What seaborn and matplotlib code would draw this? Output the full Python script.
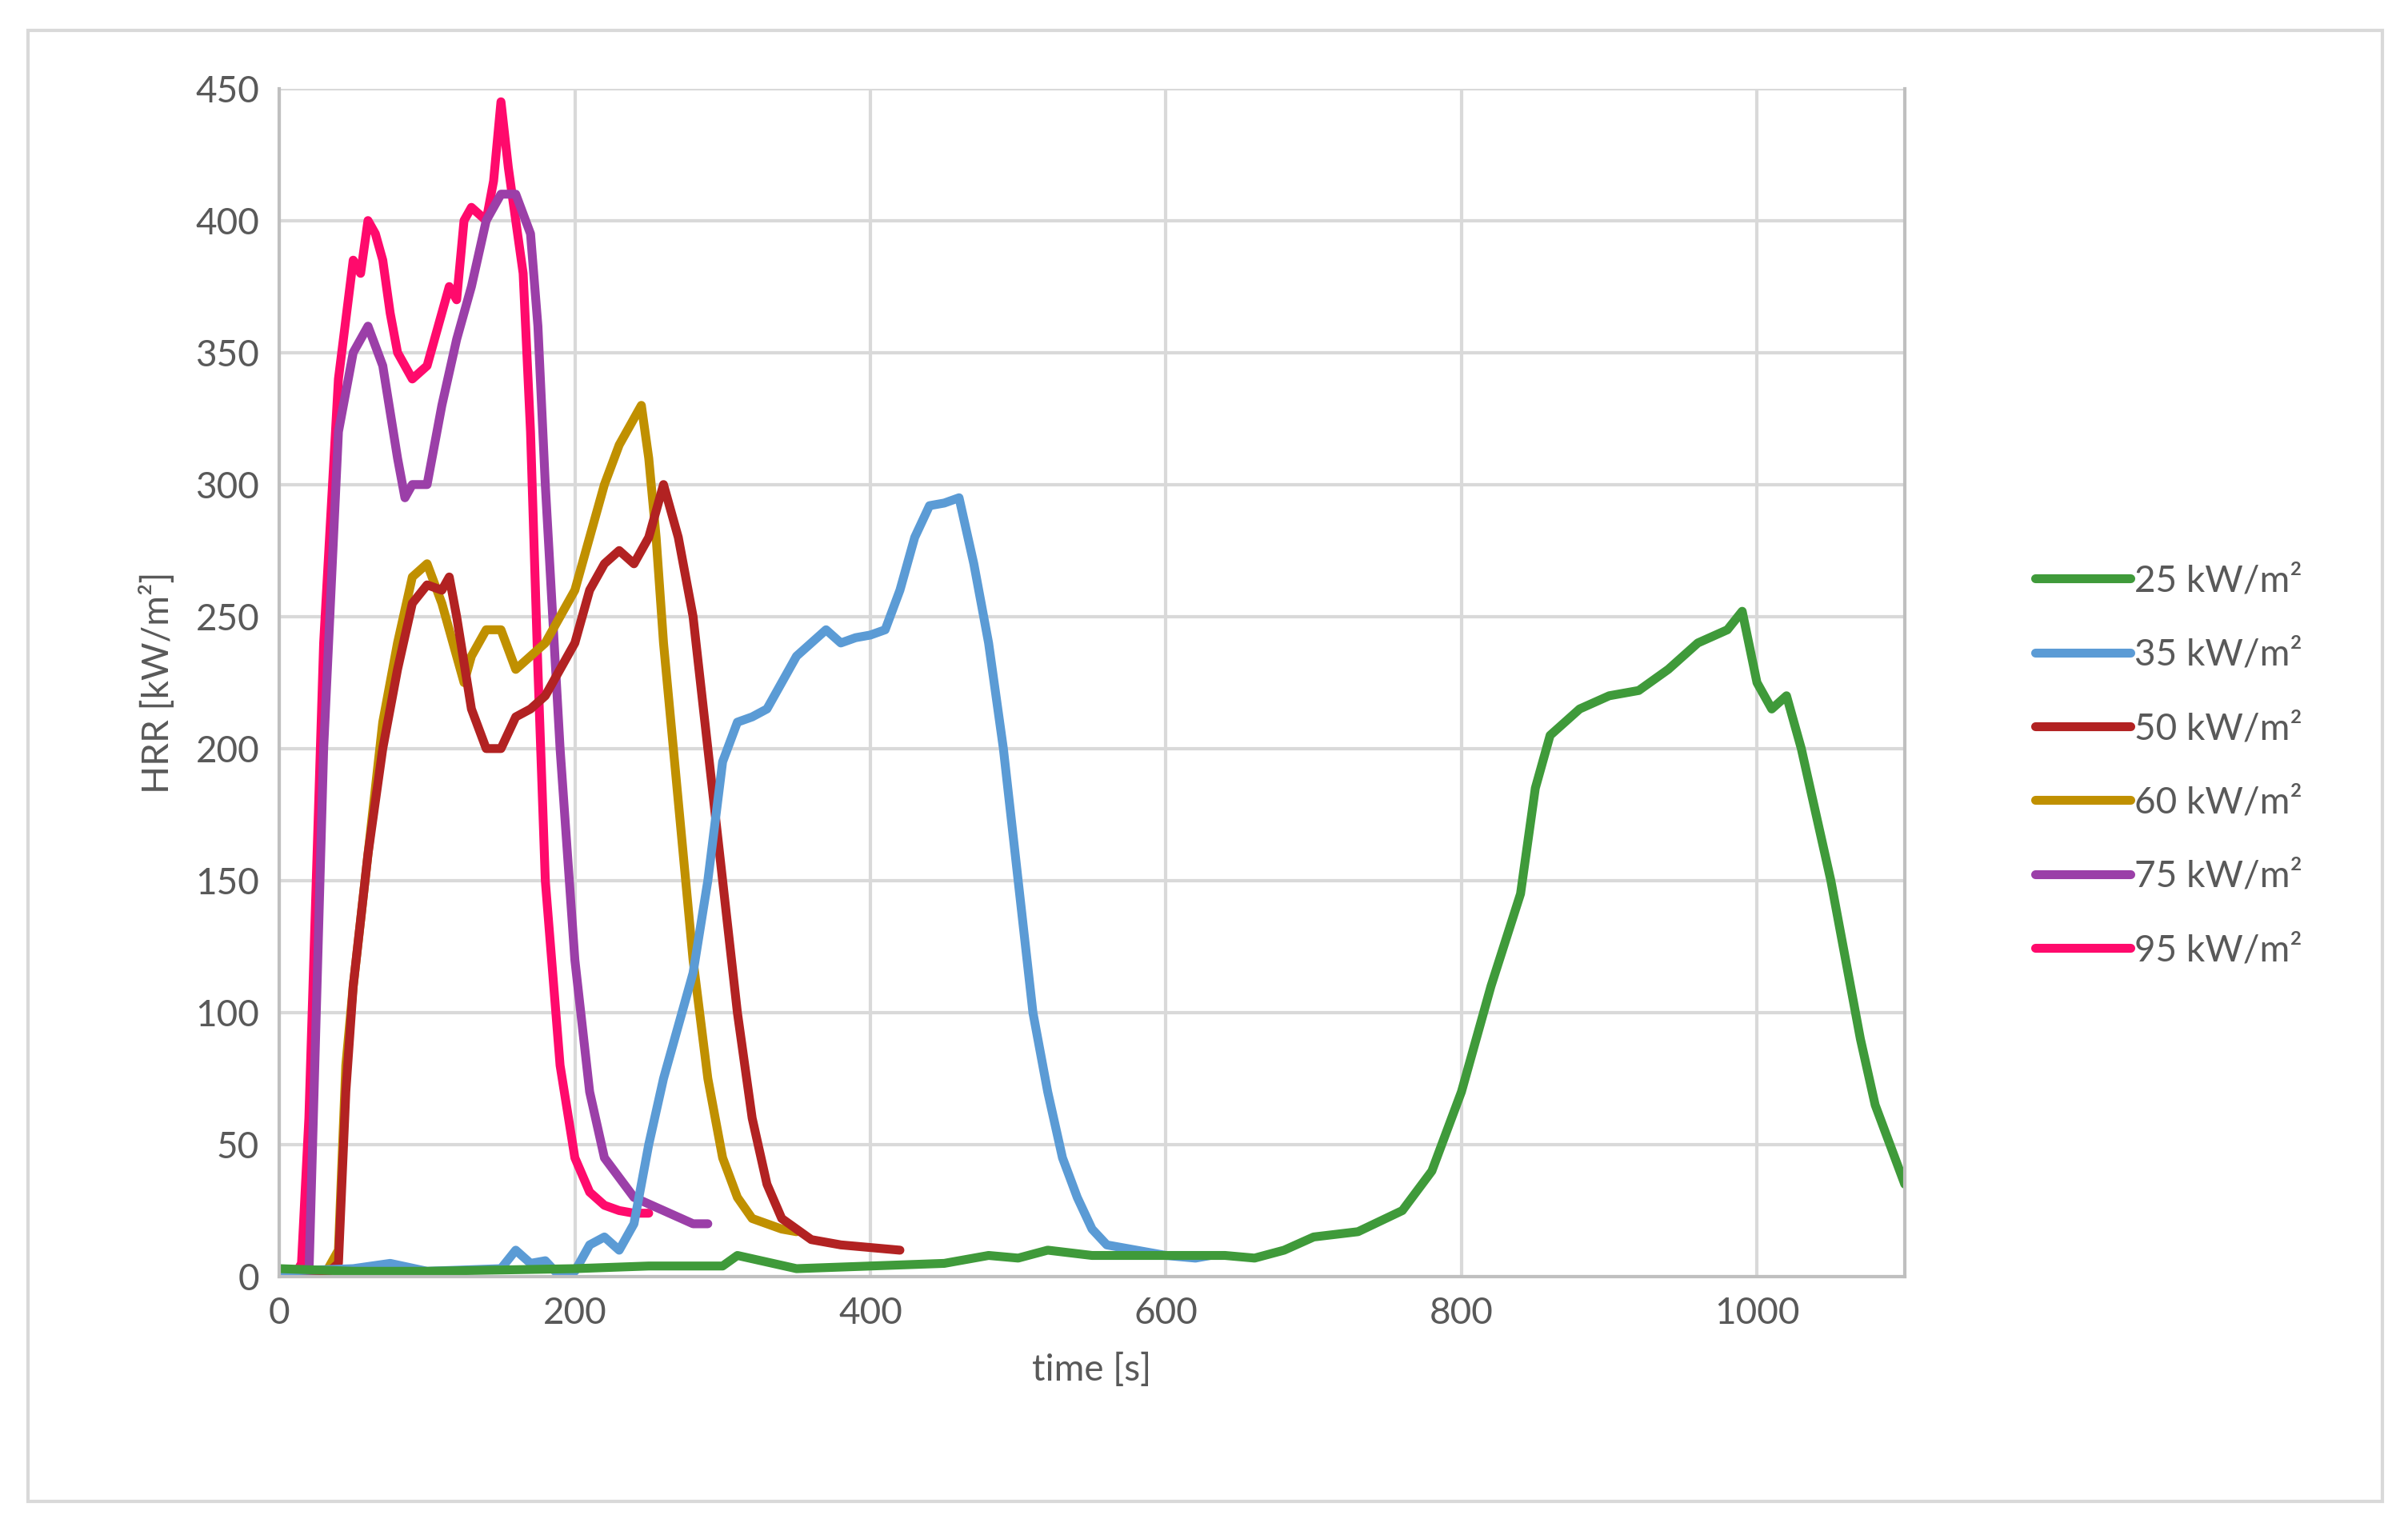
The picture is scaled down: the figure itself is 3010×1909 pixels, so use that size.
import matplotlib
matplotlib.use('Agg')
import matplotlib.pyplot as plt
import seaborn as sns
import pandas as pd
from matplotlib.patches import Rectangle

# --- data ---
t95 = [0, 10, 15, 20, 30, 40, 50, 55, 60, 65, 70, 75, 80, 90, 100, 110, 115, 120, 125, 130,
       140, 145, 150, 155, 160, 165, 170, 175, 180, 190, 200, 210, 220, 230, 240, 250]
v95 = [0, 0, 5, 60, 240, 340, 385, 380, 400, 395, 385, 365, 350, 340, 345, 365, 375, 370, 400, 405,
       400, 415, 445, 420, 400, 380, 320, 230, 150, 80, 45, 32, 27, 25, 24, 24]

t75 = [0, 20, 30, 40, 50, 60, 70, 80, 85, 90, 100, 110, 120, 130, 140, 150, 160, 170, 175, 180,
       190, 200, 210, 220, 240, 260, 280, 290]
v75 = [0, 0, 200, 320, 350, 360, 345, 310, 295, 300, 300, 330, 355, 375, 400, 410, 410, 395, 360, 300,
       200, 120, 70, 45, 30, 25, 20, 20]

t60 = [0, 30, 40, 45, 50, 60, 70, 80, 90, 100, 110, 120, 125, 130, 140, 150, 160, 170, 180, 190,
       200, 210, 220, 230, 240, 245, 250, 255, 260, 270, 280, 290, 300, 310, 320, 330, 340, 350]
v60 = [0, 0, 10, 80, 110, 160, 210, 240, 265, 270, 255, 235, 225, 235, 245, 245, 230, 235, 240, 250,
       260, 280, 300, 315, 325, 330, 310, 280, 240, 180, 120, 75, 45, 30, 22, 20, 18, 17]

t50 = [0, 30, 40, 45, 50, 60, 70, 80, 90, 100, 110, 115, 120, 130, 140, 150, 160, 170, 180, 190,
       200, 210, 220, 230, 240, 250, 260, 270, 280, 290, 300, 310, 320, 330, 340, 350, 360, 380, 400, 420]
v50 = [0, 0, 5, 70, 110, 160, 200, 230, 255, 262, 260, 265, 250, 215, 200, 200, 212, 215, 220, 230,
       240, 260, 270, 275, 270, 280, 300, 280, 250, 200, 150, 100, 60, 35, 22, 18, 14, 12, 11, 10]

t35 = [0, 50, 75, 100, 150, 160, 170, 180, 190, 200, 210, 220, 230, 240, 250, 260, 270, 280, 290, 300,
       310, 320, 330, 340, 350, 360, 370, 380, 390, 400, 410, 420, 430, 440, 450, 460, 470, 480, 490, 500,
       510, 520, 530, 540, 550, 560, 580, 600, 620, 630]
v35 = [2, 3, 5, 2, 3, 10, 5, 6, 0, 2, 12, 15, 10, 20, 50, 75, 95, 115, 150, 195,
       210, 212, 215, 225, 235, 240, 245, 240, 242, 243, 245, 260, 280, 292, 293, 295, 270, 240, 200, 150,
       100, 70, 45, 30, 18, 12, 10, 8, 7, 8]

t25 = [0, 50, 100, 200, 250, 300, 310, 350, 400, 450, 480, 500, 520, 550, 600, 640, 660, 680, 700, 730,
       760, 780, 800, 820, 840, 850, 860, 880, 900, 920, 940, 950, 960, 980, 990, 1000, 1010, 1020, 1030,
       1040, 1050, 1060, 1070, 1080, 1090, 1100]
v25 = [3, 2, 2, 3, 4, 4, 8, 3, 4, 5, 8, 7, 10, 8, 8, 8, 7, 10, 15, 17,
       25, 40, 70, 110, 145, 185, 205, 215, 220, 222, 230, 235, 240, 245, 252, 225, 215, 220, 200,
       175, 150, 120, 90, 65, 50, 35]

series = [
    ('25 kW/m²', t25, v25, '#3f9a3a'),
    ('35 kW/m²', t35, v35, '#5b9bd5'),
    ('50 kW/m²', t50, v50, '#b22222'),
    ('60 kW/m²', t60, v60, '#c09000'),
    ('75 kW/m²', t75, v75, '#9b3fa8'),
    ('95 kW/m²', t95, v95, '#ff0a6c'),
]

frames = [pd.DataFrame({'time': t, 'hrr': v, 'series': name}) for name, t, v, _ in series]
df = pd.concat(frames, ignore_index=True)

sns.set_style('white')
plt.rcParams['font.family'] = ['Lato', 'DejaVu Sans']

fig = plt.figure(figsize=(30.1, 19.09), dpi=100)
ax = fig.add_axes([0.116, 0.164, 0.675, 0.778])

# draw in reverse so pink sits on top
for name, t, v, c in reversed(series):
    sns.lineplot(data=df[df['series'] == name], x='time', y='hrr', color=c,
                 linewidth=8, ax=ax, label=name, estimator=None, sort=False)

ax.set_xlim(0, 1100)
ax.set_ylim(0, 450)
ax.set_xticks(range(0, 1001, 200))
ax.set_yticks(range(0, 451, 50))
ax.grid(True, color='#d9d9d9', linewidth=3)
ax.tick_params(labelsize=33, colors='#595959', length=0, pad=18)
ax.set_xlabel('time [s]', fontsize=33, color='#595959', labelpad=20)
ax.set_ylabel('HRR [kW/m²]', fontsize=33, color='#595959', labelpad=18)
for side in ['left', 'right', 'bottom']:
    ax.spines[side].set_color('#bfbfbf')
    ax.spines[side].set_linewidth(3)
ax.spines['top'].set_visible(False)

handles, labels = ax.get_legend_handles_labels()
order = [labels.index(n) for n, _, _, _ in series]
ax.legend([handles[i] for i in order], [labels[i] for i in order],
          loc='center left', bbox_to_anchor=(1.06, 0.43), frameon=False,
          fontsize=33, handlelength=2.6, handletextpad=0.1, labelspacing=1.1,
          labelcolor='#595959')

fig.patches.append(Rectangle((0.0115, 0.017), 0.978, 0.963, transform=fig.transFigure,
                             fill=False, edgecolor='#d9d9d9', linewidth=3))

fig.savefig('out.png', dpi=100)
